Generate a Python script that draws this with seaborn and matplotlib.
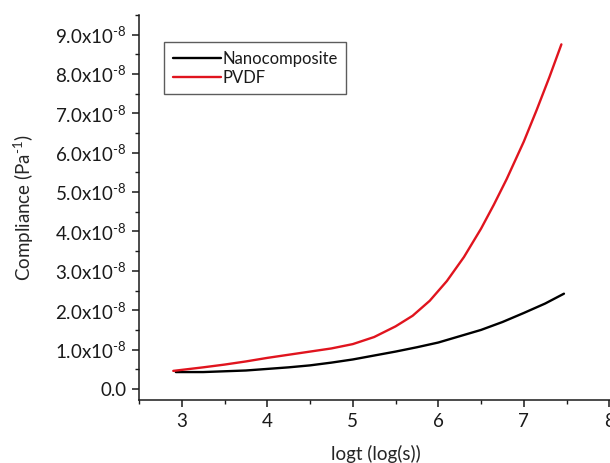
import matplotlib
matplotlib.use("Agg")
import matplotlib.pyplot as plt
import seaborn as sns
import pandas as pd
from matplotlib.ticker import MultipleLocator, FuncFormatter

nano_x = [2.93, 3.25, 3.5, 3.75, 4.0, 4.25, 4.5, 4.75, 5.0, 5.25, 5.5, 5.75, 6.0, 6.25, 6.5, 6.75, 7.0, 7.25, 7.47]
nano_y = [0.43, 0.43, 0.45, 0.47, 0.51, 0.55, 0.60, 0.67, 0.75, 0.85, 0.95, 1.06, 1.18, 1.34, 1.50, 1.70, 1.93, 2.17, 2.42]
pvdf_x = [2.90, 3.25, 3.5, 3.75, 4.0, 4.25, 4.5, 4.75, 5.0, 5.25, 5.5, 5.7, 5.9, 6.1, 6.3,
          6.5, 6.65, 6.8, 7.0, 7.15, 7.3, 7.44]
pvdf_y = [0.46, 0.55, 0.62, 0.70, 0.79, 0.87, 0.95, 1.03, 1.14, 1.32, 1.59, 1.86, 2.24, 2.74, 3.35,
          4.07, 4.68, 5.33, 6.28, 7.08, 7.92, 8.75]
series_names = ["Nanocomposite", "PVDF"]
series_colors = ["#000000", "#e0141e"]
scale = 1e-8

df = pd.concat([
    pd.DataFrame({"x": nano_x, "y": [v * scale for v in nano_y], "s": series_names[0]}),
    pd.DataFrame({"x": pvdf_x, "y": [v * scale for v in pvdf_y], "s": series_names[1]}),
])

sns.set_style("ticks")
FONT = "Lato"
plt.rcParams["font.family"] = [FONT, "DejaVu Sans"]
plt.rcParams["mathtext.fontset"] = "custom"
plt.rcParams["mathtext.rm"] = FONT
plt.rcParams["mathtext.it"] = FONT
plt.rcParams["mathtext.bf"] = FONT
plt.rcParams["text.color"] = "#1a1a1a"

fig = plt.figure(figsize=(6.10, 4.63), dpi=100)
ax = fig.add_axes([0.228, 0.136, 0.775, 0.832])
sns.lineplot(data=df, x="x", y="y", hue="s", palette=dict(zip(series_names, series_colors)),
             ax=ax, linewidth=1.7, sort=False, estimator=None)

ax.set_xlim(2.5, 8.03)
ax.set_ylim(-0.28e-8, 9.5e-8)
ax.xaxis.set_major_locator(MultipleLocator(1))
ax.xaxis.set_minor_locator(MultipleLocator(0.5))
ax.yaxis.set_major_locator(MultipleLocator(1e-8))
ax.yaxis.set_minor_locator(MultipleLocator(0.5e-8))

def yfmt(v, pos):
    m = round(v / 1e-8, 1)
    if abs(m) < 1e-9:
        return "0.0"
    return r"%.1fx10$^{\text{-8}}$" % m

ax.yaxis.set_major_formatter(FuncFormatter(yfmt))
ax.tick_params(which="major", direction="out", length=5, width=1.1, labelsize=13.5,
               colors="#1a1a1a", pad=4)
ax.tick_params(which="minor", direction="out", length=3, width=1.0, colors="#1a1a1a")
for s in ["top", "right"]:
    ax.spines[s].set_visible(False)
for s in ["left", "bottom"]:
    ax.spines[s].set_linewidth(1.1)
    ax.spines[s].set_color("#1a1a1a")

ax.set_xlabel("logt (log(s))", fontsize=13.5, labelpad=11)
ax.set_ylabel(r"Compliance (Pa$^{\text{-1}}$)", fontsize=13.5, labelpad=14)

leg = ax.legend(loc="upper left", bbox_to_anchor=(0.036, 0.95), fontsize=12, frameon=True,
                fancybox=False, edgecolor="#333333", handlelength=2.9, handletextpad=0.1,
                borderpad=0.5, labelspacing=0.2, title=None)
leg.get_frame().set_linewidth(1.0)

fig.savefig("out.png", dpi=100)
